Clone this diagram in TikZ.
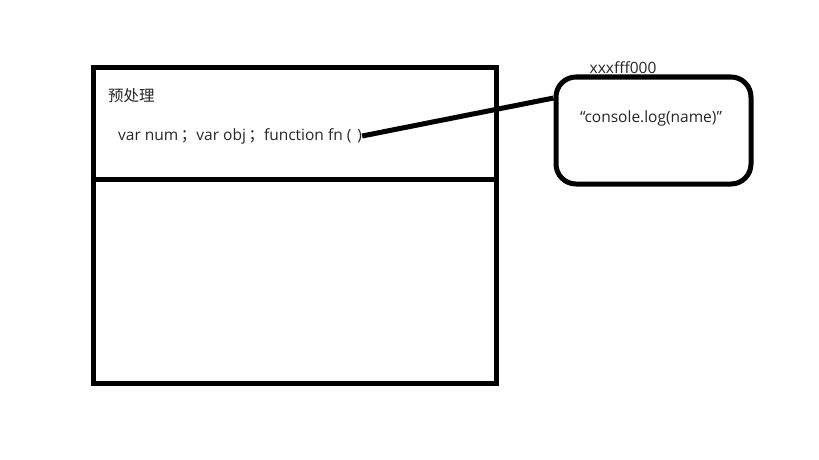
\documentclass[tikz,border=0pt]{standalone}
\usepackage{fontspec}
\setmainfont{Open Sans}
\newfontfamily\cjk{Noto Sans CJK SC}
\usetikzlibrary{positioning}

\begin{document}
\begin{tikzpicture}[x=1pt,y=-1pt]
\tikzset{frame/.style={draw, line width=5pt, inner sep=0pt},
         label/.style={inner sep=0pt, text=black!85, font=\fontsize{15.5}{18}\selectfont}}
\useasboundingbox (0,0) rectangle (819,460);

% stack frame with its preprocessing part
\node[frame, minimum width=403pt, minimum height=315pt] (stack) at (294.5,225.5) {};
\coordinate (split) at (0,179);
\draw[line width=5pt] (stack.west |- split) -- (stack.east |- split);

\node[label, anchor=west] (pre) at (108,96) {\cjk 预处理};
\node[label, anchor=west] (code) at (118,136) {var num\,{\cjk ；}var obj\,{\cjk ；}function fn (\hspace{6pt})};

% heap object
\node[frame, rounded corners=20pt, minimum width=195pt, minimum height=107pt] (heap) at (653.5,130.5) {};
\node[label, anchor=south] (addr) at (623,74) {xxxfff000};
\node[label] (body) at (651,118) {“console.log(name)”};

\draw[line width=5pt] (code.east) -- (heap.162);
\end{tikzpicture}
\end{document}
